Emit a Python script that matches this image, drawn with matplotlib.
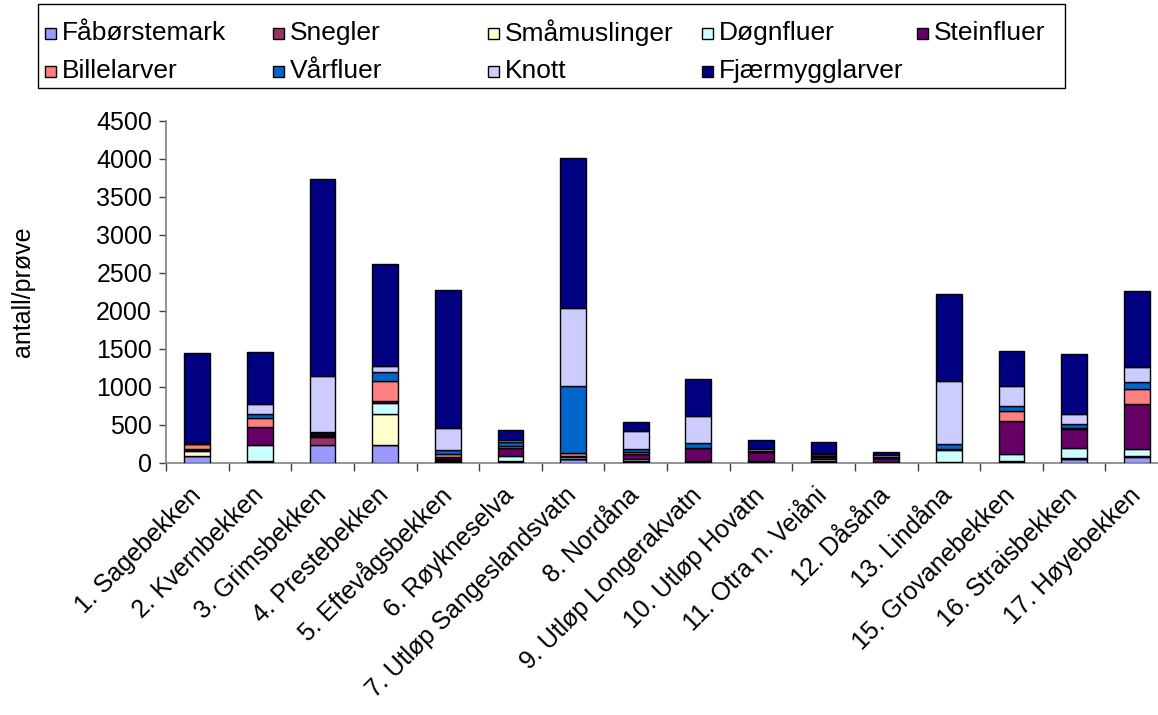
import matplotlib
matplotlib.use("Agg")
import matplotlib.pyplot as plt
import matplotlib.transforms as mtransforms
from matplotlib.patches import Rectangle
import numpy as np

plt.rcParams['font.family'] = ['Liberation Sans', 'DejaVu Sans']

categories = ["1. Sagebekken", "2. Kvernbekken", "3. Grimsbekken", "4. Prestebekken",
              "5. Eftevågsbekken", "6. Røykneselva", "7. Utløp Sangeslandsvatn", "8. Nordåna",
              "9. Utløp Longerakvatn", "10. Utløp Hovatn", "11. Otra n. Veiåni", "12. Dåsåna",
              "13. Lindåna", "15. Grovanebekken", "16. Straisbekken", "17. Høyebekken"]

series_names = ["Fåbørstemark", "Snegler", "Småmuslinger", "Døgnfluer", "Steinfluer",
                "Billelarver", "Vårfluer", "Knott", "Fjærmygglarver"]

faborstemark   = [80, 10, 230, 230, 10, 10, 40, 10, 5, 5, 5, 0, 5, 10, 45, 75]
snegler        = [10, 5, 110, 5, 10, 5, 5, 10, 5, 5, 5, 5, 0, 10, 5, 5]
smamuslinger   = [60, 5, 10, 410, 10, 5, 5, 5, 5, 0, 5, 0, 5, 5, 5, 10]
dognfluer      = [10, 210, 10, 135, 10, 65, 20, 15, 10, 5, 30, 5, 160, 85, 130, 85]
steinfluer     = [15, 235, 30, 30, 30, 100, 20, 75, 160, 120, 30, 50, 5, 440, 250, 590]
billelarver    = [70, 120, 5, 265, 40, 35, 40, 20, 10, 5, 5, 5, 5, 135, 20, 200]
varfluer       = [5, 55, 5, 115, 60, 55, 877, 40, 60, 10, 30, 10, 70, 60, 50, 90]
knott          = [5, 125, 740, 80, 290, 15, 1035, 240, 360, 30, 10, 25, 830, 260, 130, 205]
fjaermygg      = [1190, 695, 2600, 1350, 1810, 140, 1974, 125, 485, 110, 150, 40, 1140, 465, 800, 1000]

colors = ["#9999FF", "#993366", "#FFFFCC", "#CCFFFF", "#660066",
          "#FF8080", "#0066CC", "#CCCCFF", "#000080"]

data = [faborstemark, snegler, smamuslinger, dognfluer, steinfluer,
        billelarver, varfluer, knott, fjaermygg]

FS = 18
FS_X = 18
FS_LEG = 19
W, H = 1158, 715

fig = plt.figure(figsize=(W/100, H/100), dpi=100)
ax = fig.add_axes([166/W, 252.5/H, 1002/W, 341.5/H])

x = np.arange(len(categories))
bottom = np.zeros(len(categories))
for name, vals, col in zip(series_names, data, colors):
    vals = np.array(vals, dtype=float)
    ax.bar(x, vals, width=0.41, bottom=bottom, color=col, edgecolor='black',
           linewidth=1.0, label=name, zorder=3)
    bottom += vals

ax.set_xlim(-0.5, len(categories) - 0.5)
ax.set_ylim(0, 4500)
ax.set_yticks(np.arange(0, 4501, 500))
ax.set_xticks(x)
ax.set_xticklabels(categories, rotation=45, ha='right', va='center',
                   rotation_mode='anchor', fontsize=FS_X)
offset = mtransforms.ScaledTranslation(-10/100, 0, fig.dpi_scale_trans)
for lbl in ax.get_xticklabels():
    lbl.set_transform(lbl.get_transform() + offset)
ax.set_xticks(np.arange(-0.5, len(categories), 1), minor=True)
ax.tick_params(axis='x', which='major', length=0, pad=21)
ax.tick_params(axis='x', which='minor', length=6, width=1, color='#404040', direction='out')
ax.tick_params(axis='y', which='major', length=5, width=1, color='#404040', labelsize=FS, pad=5)

for s in ['top', 'right']:
    ax.spines[s].set_visible(False)
for s in ['left', 'bottom']:
    ax.spines[s].set_color('#808080')
    ax.spines[s].set_linewidth(1.2)

ax.set_ylabel("antall/prøve", fontsize=FS)
ax.yaxis.set_label_coords(-0.131, 0.5)

# legend drawn in figure pixel coordinates, row-major like the reference
def fx(px):
    return px / W

def fy(py):
    return 1 - py / H

frame = Rectangle((fx(38), fy(88)), fx(1065) - fx(38), fy(4) - fy(88),
                  transform=fig.transFigure, facecolor='white', edgecolor='black',
                  linewidth=1.0, zorder=5)
fig.add_artist(frame)

col_x = [45, 273, 488, 702, 917]
row_y = [33, 71]
msize = 11
for i, (name, col) in enumerate(zip(series_names, colors)):
    r, c = divmod(i, 5)
    mx, my = col_x[c], row_y[r]
    fig.add_artist(Rectangle((fx(mx), fy(my + msize/2)), msize / W, msize / H,
                             transform=fig.transFigure, facecolor=col,
                             edgecolor='black', linewidth=1.0, zorder=6))
    fig.text(fx(mx + msize + 6), fy(my), name, fontsize=FS_LEG, ha='left', va='center',
             zorder=6)

fig.savefig("out.png", dpi=100)
